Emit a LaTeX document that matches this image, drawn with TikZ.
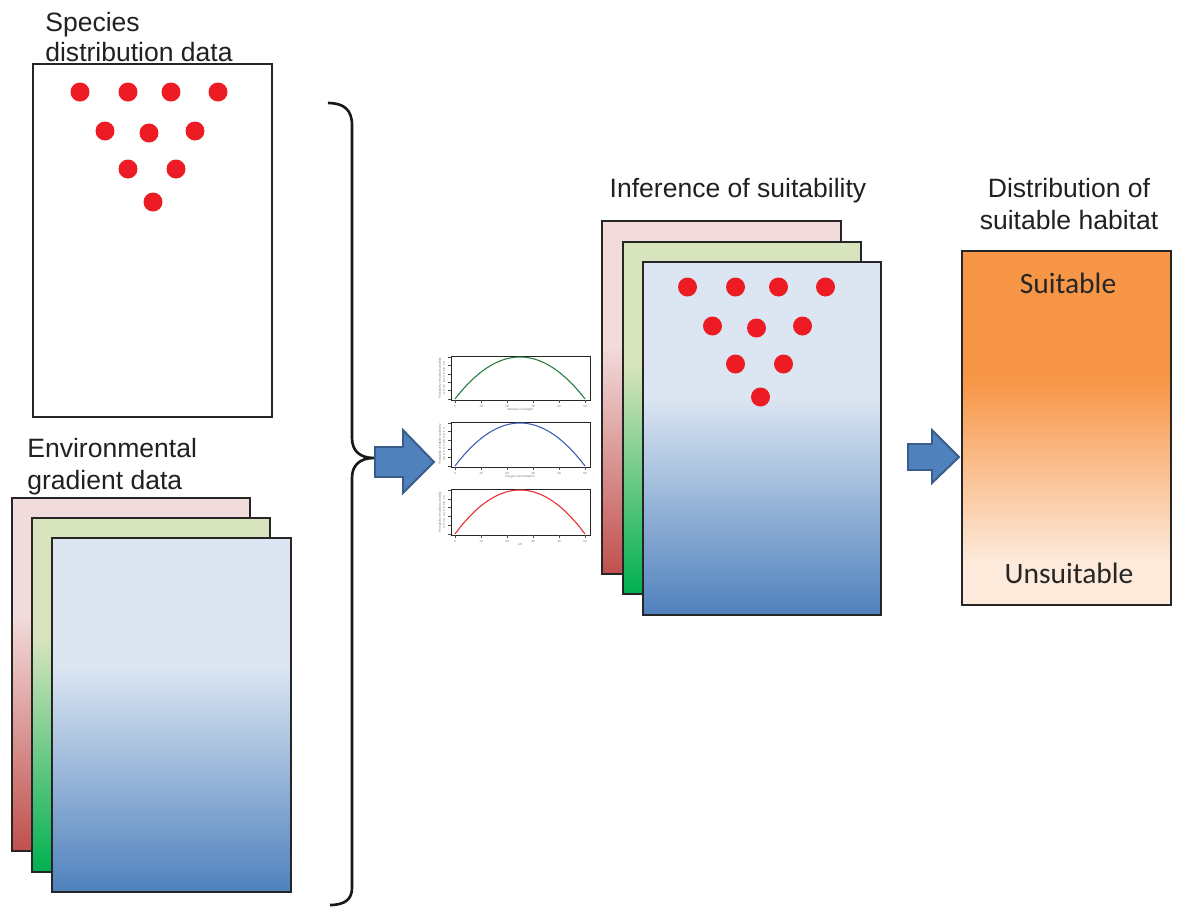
\documentclass[tikz,border=0pt]{standalone}
\usepackage{fontspec}
\setmainfont{Liberation Sans}
\newfontfamily\calibfont{Carlito}
\definecolor{dotred}{HTML}{ED1C24}
\definecolor{lred}{HTML}{F2DCDB}
\definecolor{dred}{HTML}{C0504D}
\definecolor{lgreen}{HTML}{D7E4BD}
\definecolor{dgreen}{HTML}{00B050}
\definecolor{lblue}{HTML}{DCE6F2}
\definecolor{dblue}{HTML}{4F81BD}
\definecolor{orng}{HTML}{F79646}
\definecolor{lorng}{HTML}{FDEADA}
\definecolor{framecol}{HTML}{262626}
\definecolor{arrowfill}{HTML}{4F81BD}
\definecolor{arrowedge}{HTML}{385D8A}
\definecolor{txt}{HTML}{231F20}
\definecolor{cgreen}{HTML}{1F7A3C}
\definecolor{cblue}{HTML}{3A5CB5}
\definecolor{cred}{HTML}{E82A2E}
\newcommand\gradpanel[8]{%
  \coordinate (#1-nw) at (#2,#3);
  \coordinate (#1-se) at (#4,#5);
  \fill[#6] (#2,#3) rectangle (#4,#5);
  \shade[top color=#6,bottom color=#7] (#2,{#3+(#5-#3)*#8}) rectangle (#4,#5);
  \draw[frame] (#2,#3) rectangle (#4,#5);
}
\begin{document}
\begin{tikzpicture}[x=0.02cm,y=-0.02cm,
  frame/.style={draw=framecol,line width=0.8pt},
  label/.style={font=\fontsize{15.1}{18}\selectfont,text=txt,inner sep=0pt},
  suit/.style={font=\calibfont\fontsize{16.8}{20}\selectfont,text=framecol,inner sep=0pt},
  dot/.style={fill=dotred},
  blockarrow/.style={fill=arrowfill,draw=arrowedge,line width=1.1pt,line join=miter},
  brace/.style={draw=black!90,line width=1.5pt},
  chartbox/.style={draw=black!85,line width=0.55pt},
  tick/.style={draw=black!70,line width=0.3pt},
  tinytxt/.style={font=\fontsize{1.7}{2}\selectfont,text=black!55,inner sep=0pt}]
\useasboundingbox (0,0) rectangle (1177,907);
\fill[white] (0,0) rectangle (1177,907);

% ---- Species distribution data ----
\node[label,anchor=base west] (sp1) at (45,31) {Species};
\node[label,anchor=base west] (sp2) at (45,61) {distribution data};
\draw[frame,fill=white] (33,64) rectangle (272,417);
\coordinate (species-nw) at (33,64);
\begin{scope}
\foreach \p in {(80,92),(128,92),(171,92),(218,92),(105,131),(149,133),(195,131),(128,169),(176,169),(153,202)}
  \fill[dot] \p circle[radius=0.19cm];
\end{scope}

% ---- Environmental gradient data ----
\node[label,anchor=base west] (env1) at (27,457) {Environmental};
\node[label,anchor=base west] (env2) at (27,489) {gradient data};
\gradpanel{envr}{12}{498}{250}{851}{lred}{dred}{0.33}
\gradpanel{envg}{32}{518}{270}{872}{lgreen}{dgreen}{0.34}
\gradpanel{envb}{52}{538}{291}{892}{lblue}{dblue}{0.36}

% ---- Brace ----
\coordinate (btop) at (328,103);
\coordinate (btip) at (374,458);
\coordinate (bbot) at (330,905);
\draw[brace] (btop) .. controls (344,103) and (352,110) .. (352,125) -- (352,438)
  .. controls (352,451) and (360,458) .. (btip)
  .. controls (360,458) and (352,465) .. (352,478) -- (352,888)
  .. controls (352,899) and (345,905) .. (bbot);

% ---- Arrow 1 ----
\draw[blockarrow] (375,447) -- (403,447) -- (403,430) -- (434,462) -- (403,493) -- (403,477) -- (375,477) -- cycle;
\coordinate (arrow1) at (434,462);

% ---- Response curves ----
\foreach \ty/\by/\cc/\xl in {356/400/cgreen/Intensity of sunlight,422/467/cblue/Oxygen concentration,489/535/cred/pH}{
  \draw[chartbox] (451,\ty) rectangle (590,\by);
  \foreach \k in {0,...,5}{
    \draw[tick] ({455+26*\k},\by) -- ({455+26*\k},{\by+3});
    \node[tinytxt] at ({455+26*\k},{\by+6}) {\pgfmathparse{int(10*\k)}\pgfmathresult};
    \draw[tick] (451,{\by-1-(\by-\ty-2)*\k/5}) -- (448,{\by-1-(\by-\ty-2)*\k/5});
  }
  \node[tinytxt] at (520,{\by+10}) {\xl};
  \node[tinytxt,rotate=90] at (444,{(\ty+\by)/2}) {0.0\enspace0.2\enspace0.4\enspace0.6\enspace0.8\enspace1.0};
  \node[tinytxt,rotate=90] at (440,{(\ty+\by)/2}) {Probability of habitat suitability};
  \draw[\cc,line width=0.6pt] plot[domain=0:1,samples=40,smooth] ({455+130*\x},{\by-1-(\by-\ty-2)*4*\x*(1-\x)});
}

% ---- Inference of suitability ----
\node[label,anchor=base] (inf) at (738,197) {Inference of suitability};
\gradpanel{infr}{602}{221}{841}{574}{lred}{dred}{0.35}
\gradpanel{infg}{623}{242}{861}{594}{lgreen}{dgreen}{0.35}
\gradpanel{infb}{643}{262}{881}{615}{lblue}{dblue}{0.38}
\begin{scope}[shift={(607.5,195)}]
\foreach \p in {(80,92),(128,92),(171,92),(218,92),(105,131),(149,133),(195,131),(128,169),(176,169),(153,202)}
  \fill[dot] \p circle[radius=0.19cm];
\end{scope}

% ---- Arrow 2 ----
\draw[blockarrow] (908,444) -- (932,444) -- (932,430) -- (959,457) -- (932,483) -- (932,470) -- (908,470) -- cycle;

% ---- Distribution of suitable habitat ----
\node[label,anchor=base] (dist1) at (1069,197) {Distribution of};
\node[label,anchor=base] (dist2) at (1069,229) {suitable habitat};
\fill[orng] (962,251) rectangle (1171,380);
\shade[top color=orng,bottom color=lorng] (962,380) rectangle (1171,562);
\fill[lorng] (962,562) rectangle (1171,605);
\draw[frame] (962,251) rectangle (1171,605);
\node[suit,anchor=base] (suitable) at (1068,293) {Suitable};
\node[suit,anchor=base] (unsuitable) at (1069,583) {Unsuitable};
\end{tikzpicture}
\end{document}
